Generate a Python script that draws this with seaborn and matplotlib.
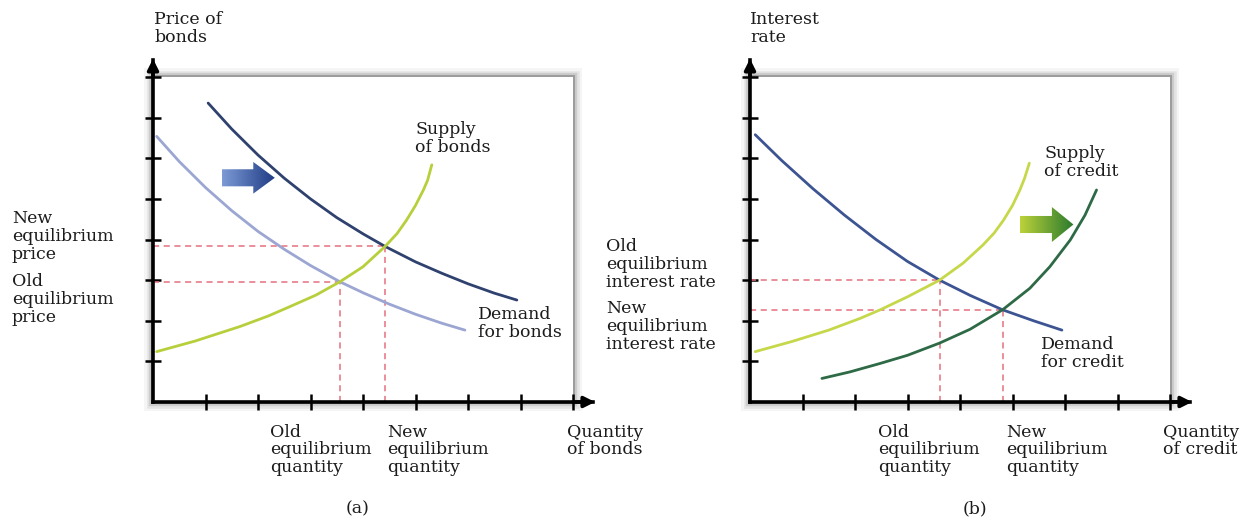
import numpy as np
import matplotlib.pyplot as plt
import seaborn as sns
from matplotlib.patches import Rectangle, Polygon
from matplotlib.colors import LinearSegmentedColormap

# ---- panel (a): bond market ----
bond_dem_old_x = [0.07, 0.5, 1.0, 1.5, 2.0, 2.5, 3.0, 3.56, 4.0, 4.5, 5.0, 5.5, 5.94]
bond_dem_old_y = [6.54, 5.92, 5.28, 4.71, 4.20, 3.76, 3.36, 2.96, 2.69, 2.41, 2.16, 1.94, 1.77]
bond_dem_new_x = [1.05, 1.5, 2.0, 2.5, 3.0, 3.5, 4.0, 4.42, 5.0, 5.5, 6.0, 6.5, 6.93]
bond_dem_new_y = [7.36, 6.72, 6.08, 5.51, 5.00, 4.54, 4.14, 3.83, 3.45, 3.17, 2.91, 2.68, 2.51]
bond_sup_x = [0.07, 0.8, 1.66, 2.2, 2.61, 3.1, 3.56, 4.0, 4.42, 4.65, 4.83, 5.0, 5.15, 5.23, 5.31]
bond_sup_y = [1.24, 1.50, 1.86, 2.12, 2.35, 2.63, 2.96, 3.33, 3.83, 4.15, 4.48, 4.84, 5.22, 5.46, 5.84]
bond_eq_q = [3.56, 4.42]   # old, new
bond_eq_p = [2.96, 3.83]

# ---- panel (b): credit market ----
cred_dem_x = [0.10, 0.6, 1.2, 1.8, 2.4, 3.0, 3.61, 4.2, 4.81, 5.4, 5.94]
cred_dem_y = [6.58, 5.95, 5.25, 4.60, 4.00, 3.46, 3.00, 2.62, 2.27, 2.00, 1.77]
cred_sup_old_x = [0.10, 0.8, 1.5, 2.1, 2.48, 3.0, 3.61, 4.06, 4.44, 4.65, 4.83, 5.0, 5.14, 5.23, 5.32]
cred_sup_old_y = [1.24, 1.49, 1.77, 2.06, 2.27, 2.59, 3.00, 3.42, 3.87, 4.16, 4.48, 4.84, 5.22, 5.51, 5.88]
cred_sup_new_x = [1.37, 1.9, 2.48, 3.0, 3.61, 4.19, 4.81, 5.33, 5.71, 6.10, 6.38, 6.60]
cred_sup_new_y = [0.58, 0.74, 0.95, 1.15, 1.45, 1.79, 2.27, 2.80, 3.33, 3.99, 4.60, 5.22]
cred_eq_q = [3.61, 4.81]
cred_eq_r = [3.00, 2.27]

sns.set_style("white")
plt.rcParams['font.family'] = ['DejaVu Serif']

TXT = "#1c1c1c"
FS = 12.5
RED = "#e4707f"

fig = plt.figure(figsize=(12.53, 5.21), dpi=100)
ax_a = fig.add_axes([153 / 1253, 1 - 402 / 521, 440 / 1253, 342 / 521])
ax_b = fig.add_axes([750 / 1253, 1 - 402 / 521, 440 / 1253, 342 / 521])


def setup_axes(ax):
    ax.set_xlim(0, 8.38)
    ax.set_ylim(0, 8.42)
    for s in ["top", "right"]:
        ax.spines[s].set_visible(False)
    for s in ["left", "bottom"]:
        ax.spines[s].set_linewidth(2.6)
        ax.spines[s].set_color("black")
        ax.spines[s].set_zorder(5)
    ax.set_xticks(range(1, 9))
    ax.set_yticks(range(1, 9))
    ax.tick_params(bottom=True, left=True, direction="inout", length=11,
                   width=1.8, color="black", labelbottom=False, labelleft=False)
    ax.set_xlabel("")
    ax.set_ylabel("")


def frame(ax):
    # soft shadow around the plotting box
    for lw, a in [(13, 0.06), (9, 0.1), (6, 0.16), (3, 0.4)]:
        ax.add_patch(Rectangle((0, 0), 8, 8, fill=False, ec="#555555", lw=lw,
                               alpha=a, zorder=0.2, clip_on=False))
    ax.add_patch(Rectangle((0, 0), 8, 8, fc="white", ec="none", zorder=0.3))
    for xy, xyt in [((0, 8.45), (0, 8.0)), ((8.42, 0), (8.0, 0))]:
        ax.annotate("", xy=xy, xytext=xyt, annotation_clip=False,
                    arrowprops=dict(arrowstyle="-|>", color="black", lw=2.6,
                                    mutation_scale=16, shrinkA=0, shrinkB=0))


def eq_lines(ax, qs, ps):
    for q, p in zip(qs, ps):
        ax.plot([0, q], [p, p], color=RED, lw=1.1, dashes=(4, 3), zorder=1)
        ax.plot([q, q], [0, p], color=RED, lw=1.1, dashes=(4, 3), zorder=1)


def curve(ax, xs, ys, color):
    sns.lineplot(x=xs, y=ys, ax=ax, color=color, lw=2, sort=False,
                 estimator=None, zorder=2, solid_joinstyle="round",
                 solid_capstyle="round")


def block_arrow(ax, x0, x1, x2, yc, bh, hh, c0, c1):
    verts = [(x0, yc - bh), (x1, yc - bh), (x1, yc - hh), (x2, yc),
             (x1, yc + hh), (x1, yc + bh), (x0, yc + bh)]
    poly = Polygon(verts, closed=True, fc="none", ec="none")
    ax.add_patch(poly)
    cmap = LinearSegmentedColormap.from_list("g", [c0, c1])
    grad = np.linspace(0, 1, 256).reshape(1, -1)
    im = ax.imshow(grad, cmap=cmap, extent=(x0, x2, yc - hh, yc + hh),
                   aspect="auto", zorder=3, interpolation="bilinear")
    im.set_clip_path(poly)


def label(ax, x, y, s, **kw):
    ax.text(x, y, s, fontsize=FS, color=TXT, va="top", ha="left",
            linespacing=1.05, clip_on=False, **kw)


# ---- panel (a) ----
ax = ax_a
frame(ax)
eq_lines(ax, bond_eq_q, bond_eq_p)
curve(ax, bond_dem_old_x, bond_dem_old_y, "#9ba6d2")
curve(ax, bond_dem_new_x, bond_dem_new_y, "#2f416e")
curve(ax, bond_sup_x, bond_sup_y, "#b8cf3c")
block_arrow(ax, 1.31, 1.91, 2.32, 5.52, 0.21, 0.39, "#7d9ad6", "#1d3a84")
setup_axes(ax)

label(ax, 0.02, 9.62, "Price of\nbonds")
label(ax, -2.69, 4.72, "New\nequilibrium\nprice")
label(ax, -2.69, 3.17, "Old\nequilibrium\nprice")
label(ax, 4.99, 6.92, "Supply\nof bonds")
label(ax, 6.19, 2.36, "Demand\nfor bonds")
label(ax, 2.23, -0.53, "Old\nequilibrium\nquantity")
label(ax, 4.46, -0.53, "New\nequilibrium\nquantity")
label(ax, 7.89, -0.53, "Quantity\nof bonds")
ax.text(3.90, -2.62, "(a)", fontsize=FS, color=TXT, ha="center", va="center",
        clip_on=False)

# ---- panel (b) ----
ax = ax_b
frame(ax)
eq_lines(ax, cred_eq_q, cred_eq_r)
curve(ax, cred_dem_x, cred_dem_y, "#3d5493")
curve(ax, cred_sup_old_x, cred_sup_old_y, "#c6d84a")
curve(ax, cred_sup_new_x, cred_sup_new_y, "#2e6a46")
block_arrow(ax, 5.14, 5.75, 6.16, 4.37, 0.21, 0.43, "#bcd23a", "#2a7a2e")
setup_axes(ax)

label(ax, 0.0, 9.62, "Interest\nrate")
label(ax, -2.74, 4.03, "Old\nequilibrium\ninterest rate")
label(ax, -2.74, 2.50, "New\nequilibrium\ninterest rate")
label(ax, 5.60, 6.32, "Supply\nof credit")
label(ax, 5.54, 1.62, "Demand\nfor credit")
label(ax, 2.44, -0.53, "Old\nequilibrium\nquantity")
label(ax, 4.88, -0.53, "New\nequilibrium\nquantity")
label(ax, 7.87, -0.53, "Quantity\nof credit")
ax.text(4.29, -2.62, "(b)", fontsize=FS, color=TXT, ha="center", va="center",
        clip_on=False)

fig.savefig("out.png", dpi=100, facecolor="white")
